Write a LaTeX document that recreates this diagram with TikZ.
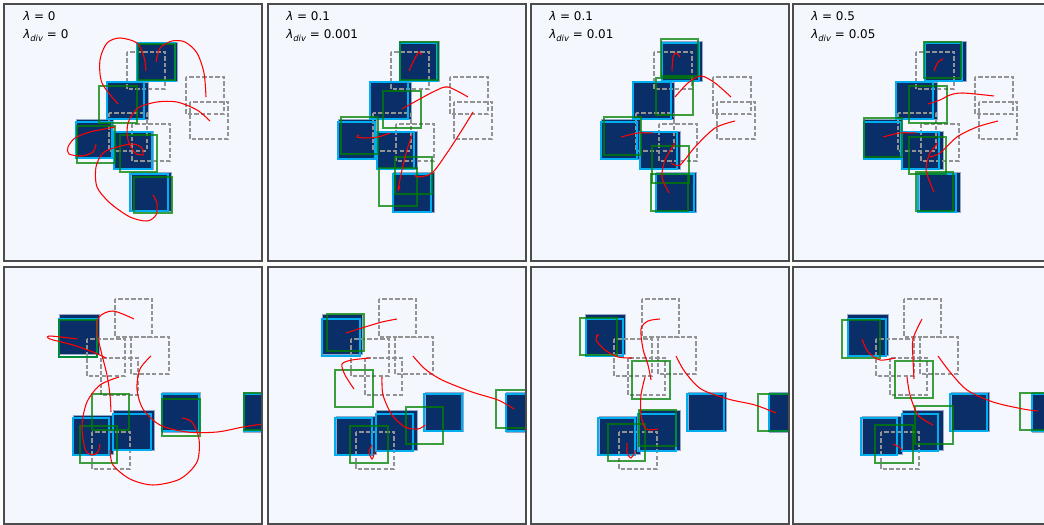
\documentclass[tikz,border=0pt]{standalone}
\usepackage{fontspec}
\setmainfont{DejaVu Sans}

\definecolor{bgblue}{HTML}{F4F8FE}
\definecolor{navyfill}{HTML}{0A2F68}
\definecolor{navyedge}{HTML}{97A9C8}
\definecolor{boxgreen}{HTML}{008000}

\tikzstyle{frame}  = [draw=black!70, line width=0.8pt]
\tikzstyle{obj}    = [fill=navyfill, draw=navyedge, line width=0.6pt]
\tikzstyle{target} = [draw=gray!85, dash pattern=on 3pt off 1.6pt, line width=0.75pt]
\tikzstyle{pred}   = [draw=cyan, line width=1.05pt]
\tikzstyle{prior}  = [draw=boxgreen, draw opacity=0.75, line width=0.9pt]
\tikzstyle{traj}   = [draw=red, line width=0.75pt]
\tikzstyle{lbl}    = [anchor=base west, inner sep=0pt, font=\fontsize{8.5}{10}\selectfont]

\newcommand{\subdiv}{\textit{λ}\raisebox{-0.45ex}{\fontsize{6}{7}\selectfont\textit{div}}}

% dashed goal boxes, top row
\newcommand{\toptargets}{%
  \draw[target] (123,48) rectangle (161,85);
  \draw[target] (182,73) rectangle (220,110);
  \draw[target] (186,98) rectangle (224,135);
  \draw[target] (105,109) rectangle (143,147);
  \draw[target] (128,120) rectangle (166,157);
}
% dashed goal boxes, bottom row
\newcommand{\bottargets}{%
  \draw[target] (111,32) rectangle (148,70);
  \draw[target] (83,72) rectangle (121,109);
  \draw[target] (127,70) rectangle (165,107);
  \draw[target] (97,91) rectangle (134,128);
  \draw[target] (88,165) rectangle (126,202);
}

\begin{document}
\begin{tikzpicture}[x=0.025cm, y=-0.025cm]
  \clip (0,0) rectangle (1044,525);
  \fill[white] (0,0) rectangle (1044,525);

  % ---- top left
  \begin{scope}[shift={(4,4)}]
    \begin{scope}
      \clip (0,0) rectangle (258,257);
      \fill[bgblue] (0,0) rectangle (258,257);
      \filldraw[obj] (133,38) rectangle (173,77);
      \filldraw[obj] (103,78) rectangle (144,115);
      \filldraw[obj] (72,115) rectangle (109,154);
      \filldraw[obj] (109,127) rectangle (149,165);
      \filldraw[obj] (127,168) rectangle (167,207);
      \toptargets
      \draw[pred] (133,39) rectangle (171,77);
      \draw[pred] (103,78) rectangle (140,115);
      \draw[pred] (72,118) rectangle (108,154);
      \draw[pred] (110,128) rectangle (148,165);
      \draw[pred] (126,170) rectangle (164,207);
      \draw[prior] (134,40) rectangle (171,76);
      \draw[prior] (95,82) rectangle (133,119);
      \draw[prior] (73,122) rectangle (111,159);
      \draw[prior] (116,131) rectangle (153,168);
      \draw[prior] (130,173) rectangle (168,209);
      \draw[traj] plot[smooth] coordinates {(114,100) (98,79) (96,56) (103,39) (116,34) (133,39) (140,53) (142,67)};
      \draw[traj] plot[smooth] coordinates {(152,58) (156,44) (168,37) (181,38) (193,49) (200,69) (202,93)};
      \draw[traj] plot[smooth] coordinates {(206,117) (193,106) (173,98) (153,98) (134,104) (124,119) (124,136) (131,149) (139,151)};
      \draw[traj] plot[smooth] coordinates {(92,140) (89,148) (78,152) (65,150) (64,143) (71,134) (86,128) (111,123)};
      \draw[traj] plot[smooth] coordinates {(149,191) (153,199) (152,211) (143,217) (126,213) (106,199) (93,183) (92,163) (99,149) (113,143) (129,140) (138,144) (139,151)};
    \end{scope}
    \draw[frame] (0,0) rectangle (258,257);
    \node[lbl] (lam1) at (19,17) {\textit{λ} = 0};
    \node[lbl] (div1) at (19,35) {\subdiv{} = 0};
  \end{scope}

  % ---- top, second
  \begin{scope}[shift={(268,4)}]
    \begin{scope}
      \clip (0,0) rectangle (258,257);
      \fill[bgblue] (0,0) rectangle (258,257);
      \filldraw[obj] (131,37) rectangle (171,77);
      \filldraw[obj] (102,78) rectangle (143,115);
      \filldraw[obj] (70,115) rectangle (108,155);
      \filldraw[obj] (109,127) rectangle (149,165);
      \filldraw[obj] (125,168) rectangle (166,208);
      \toptargets
      \draw[pred] (132,39) rectangle (169,77);
      \draw[pred] (102,78) rectangle (140,115);
      \draw[pred] (70,118) rectangle (107,155);
      \draw[pred] (109,128) rectangle (146,165);
      \draw[pred] (125,170) rectangle (163,208);
      \draw[prior] (132,38) rectangle (170,76);
      \draw[prior] (115,87) rectangle (153,124);
      \draw[prior] (73,113) rectangle (110,150);
      \draw[prior] (127,153) rectangle (164,190);
      \draw[prior] (111,164) rectangle (149,202);
      \draw[traj] plot[smooth] coordinates {(141,67) (146,56) (151,48) (153,51)};
      \draw[traj] plot[smooth] coordinates {(134,105) (150,96) (167,87) (180,83) (200,93)};
      \draw[traj] plot[smooth] coordinates {(91,131) (89,133) (97,134) (110,133) (122,129)};
      \draw[traj] plot[smooth] coordinates {(205,108) (194,126) (179,149) (164,169) (150,173) (147,171)};
      \draw[traj] plot[smooth] coordinates {(144,131) (139,146) (134,166) (130,186) (132,182)};
    \end{scope}
    \draw[frame] (0,0) rectangle (258,257);
    \node[lbl] (lam2) at (18,17) {\textit{λ} = 0.1};
    \node[lbl] (div2) at (18,35) {\subdiv{} = 0.001};
  \end{scope}

  % ---- top, third
  \begin{scope}[shift={(531,4)}]
    \begin{scope}
      \clip (0,0) rectangle (258,257);
      \fill[bgblue] (0,0) rectangle (258,257);
      \filldraw[obj] (130,37) rectangle (171,77);
      \filldraw[obj] (102,78) rectangle (143,115);
      \filldraw[obj] (70,115) rectangle (109,155);
      \filldraw[obj] (109,127) rectangle (149,165);
      \filldraw[obj] (125,168) rectangle (165,208);
      \toptargets
      \draw[pred] (131,39) rectangle (168,77);
      \draw[pred] (102,78) rectangle (140,115);
      \draw[pred] (70,118) rectangle (106,155);
      \draw[pred] (109,128) rectangle (146,165);
      \draw[pred] (125,170) rectangle (163,208);
      \draw[prior] (130,35) rectangle (167,72);
      \draw[prior] (125,74) rectangle (162,111);
      \draw[prior] (73,113) rectangle (110,151);
      \draw[prior] (121,142) rectangle (158,179);
      \draw[prior] (120,170) rectangle (157,207);
      \draw[traj] plot[smooth] coordinates {(141,67) (142,53) (145,49) (149,53)};
      \draw[traj] plot[smooth] coordinates {(144,93) (157,79) (170,72) (184,79) (200,93)};
      \draw[traj] plot[smooth] coordinates {(90,133) (107,129) (122,129)};
      \draw[traj] plot[smooth] coordinates {(204,117) (184,124) (164,143) (149,161) (140,159)};
      \draw[traj] plot[smooth] coordinates {(144,139) (134,156) (131,173) (138,189)};
    \end{scope}
    \draw[frame] (0,0) rectangle (258,257);
    \node[lbl] (lam3) at (18,17) {\textit{λ} = 0.1};
    \node[lbl] (div3) at (18,35) {\subdiv{} = 0.01};
  \end{scope}

  % ---- top right
  \begin{scope}[shift={(793,4)}]
    \begin{scope}
      \clip (0,0) rectangle (258,257);
      \fill[bgblue] (0,0) rectangle (258,257);
      \filldraw[obj] (131,37) rectangle (173,77);
      \filldraw[obj] (103,78) rectangle (144,115);
      \filldraw[obj] (71,115) rectangle (109,155);
      \filldraw[obj] (109,127) rectangle (150,165);
      \filldraw[obj] (126,168) rectangle (167,208);
      \toptargets
      \draw[pred] (132,39) rectangle (169,77);
      \draw[pred] (103,78) rectangle (140,115);
      \draw[pred] (71,118) rectangle (108,155);
      \draw[pred] (109,128) rectangle (146,165);
      \draw[pred] (125,170) rectangle (163,208);
      \draw[prior] (131,38) rectangle (168,74);
      \draw[prior] (116,82) rectangle (154,119);
      \draw[prior] (71,114) rectangle (109,153);
      \draw[prior] (116,133) rectangle (153,170);
      \draw[prior] (123,168) rectangle (160,207);
      \draw[traj] plot[smooth] coordinates {(141,67) (145,58) (150,55)};
      \draw[traj] plot[smooth] coordinates {(135,100) (147,96) (157,91) (170,89) (201,92)};
      \draw[traj] plot[smooth] coordinates {(90,133) (107,129) (123,129)};
      \draw[traj] plot[smooth] coordinates {(205,117) (184,123) (164,133) (147,149) (137,153)};
      \draw[traj] plot[smooth] coordinates {(145,139) (137,149) (133,166) (141,188)};
    \end{scope}
    \draw[frame] (0,0) rectangle (258,257);
    \node[lbl] (lam4) at (18,17) {\textit{λ} = 0.5};
    \node[lbl] (div4) at (18,35) {\subdiv{} = 0.05};
  \end{scope}

  % ---- bottom left
  \begin{scope}[shift={(4,267)}]
    \begin{scope}
      \clip (0,0) rectangle (258,257);
      \fill[bgblue] (0,0) rectangle (258,257);
      \filldraw[obj] (55,47) rectangle (95,87);
      \filldraw[obj] (69,148) rectangle (109,187);
      \filldraw[obj] (109,143) rectangle (150,183);
      \filldraw[obj] (158,125) rectangle (196,165);
      \filldraw[obj] (239,125) rectangle (279,165);
      \bottargets
      \draw[pred] (55,52) rectangle (93,90);
      \draw[pred] (69,151) rectangle (105,188);
      \draw[pred] (109,147) rectangle (147,183);
      \draw[pred] (158,127) rectangle (195,164);
      \draw[pred] (240,127) rectangle (278,164);
      \draw[prior] (55,53) rectangle (93,90);
      \draw[prior] (88,127) rectangle (125,163);
      \draw[prior] (76,159) rectangle (113,196);
      \draw[prior] (158,132) rectangle (196,169);
      \draw[prior] (240,126) rectangle (278,163);
      \draw[traj] plot[smooth] coordinates {(73,72) (46,69) (46,72) (69,78) (89,85) (102,91)};
      \draw[traj] plot[smooth] coordinates {(130,52) (109,44) (95,50) (93,65) (98,88) (103,108) (106,128) (107,145)};
      \draw[traj] plot[smooth] coordinates {(147,89) (136,102) (133,122) (139,142) (156,158) (183,165) (213,165) (239,160) (259,157)};
      \draw[traj] plot[smooth] coordinates {(115,110) (96,118) (83,135) (78,158) (81,182) (88,188) (94,185) (96,177)};
      \draw[traj] plot[smooth] coordinates {(178,151) (188,155) (195,172) (193,195) (176,212) (149,218) (126,212) (109,198) (106,183)};
    \end{scope}
    \draw[frame] (0,0) rectangle (258,257);
  \end{scope}

  % ---- bottom, second
  \begin{scope}[shift={(268,267)}]
    \begin{scope}
      \clip (0,0) rectangle (258,257);
      \fill[bgblue] (0,0) rectangle (258,257);
      \filldraw[obj] (54,47) rectangle (94,87);
      \filldraw[obj] (68,149) rectangle (108,187);
      \filldraw[obj] (108,143) rectangle (149,183);
      \filldraw[obj] (157,125) rectangle (195,164);
      \filldraw[obj] (238,125) rectangle (278,165);
      \bottargets
      \draw[pred] (54,52) rectangle (92,89);
      \draw[pred] (67,151) rectangle (104,188);
      \draw[pred] (108,147) rectangle (145,184);
      \draw[pred] (156,127) rectangle (194,164);
      \draw[pred] (238,127) rectangle (276,164);
      \draw[prior] (59,47) rectangle (96,84);
      \draw[prior] (67,103) rectangle (105,140);
      \draw[prior] (82,159) rectangle (120,196);
      \draw[prior] (138,140) rectangle (175,177);
      \draw[prior] (228,123) rectangle (266,161);
      \draw[traj] plot[smooth] coordinates {(78,66) (97,60) (114,55) (129,52)};
      \draw[traj] plot[smooth] coordinates {(86,122) (77,108) (74,97) (84,93) (102,91)};
      \draw[traj] plot[smooth] coordinates {(114,110) (115,128) (124,148) (137,160) (150,162) (157,158)};
      \draw[traj] plot[smooth] coordinates {(145,89) (157,102) (174,113) (204,125) (230,133) (246,142)};
      \draw[traj] plot[smooth] coordinates {(104,178) (101,185) (104,192) (106,187) (106,182)};
    \end{scope}
    \draw[frame] (0,0) rectangle (258,257);
  \end{scope}

  % ---- bottom, third
  \begin{scope}[shift={(531,267)}]
    \begin{scope}
      \clip (0,0) rectangle (258,257);
      \fill[bgblue] (0,0) rectangle (258,257);
      \filldraw[obj] (54,47) rectangle (94,87);
      \filldraw[obj] (68,149) rectangle (109,187);
      \filldraw[obj] (108,143) rectangle (149,183);
      \filldraw[obj] (157,125) rectangle (195,164);
      \filldraw[obj] (238,125) rectangle (278,165);
      \bottargets
      \draw[pred] (55,52) rectangle (92,89);
      \draw[pred] (67,151) rectangle (104,188);
      \draw[pred] (107,147) rectangle (145,184);
      \draw[pred] (156,127) rectangle (193,164);
      \draw[pred] (238,127) rectangle (276,164);
      \draw[prior] (49,51) rectangle (86,88);
      \draw[prior] (101,94) rectangle (139,132);
      \draw[prior] (77,157) rectangle (114,194);
      \draw[prior] (108,143) rectangle (145,179);
      \draw[prior] (227,127) rectangle (265,164);
      \draw[traj] plot[smooth] coordinates {(65,69) (67,68) (65,73) (74,83) (87,90) (101,91)};
      \draw[traj] plot[smooth] coordinates {(129,52) (117,54) (110,62) (112,82) (117,98) (120,113)};
      \draw[traj] plot[smooth] coordinates {(114,110) (110,128) (110,148) (115,162) (127,162)};
      \draw[traj] plot[smooth] coordinates {(145,89) (154,105) (170,122) (197,132) (224,138) (245,146)};
      \draw[traj] plot[smooth] coordinates {(96,176) (96,185) (100,191) (105,183)};
    \end{scope}
    \draw[frame] (0,0) rectangle (258,257);
  \end{scope}

  % ---- bottom right
  \begin{scope}[shift={(793,267)}]
    \begin{scope}
      \clip (0,0) rectangle (258,257);
      \fill[bgblue] (0,0) rectangle (258,257);
      \filldraw[obj] (54,47) rectangle (95,88);
      \filldraw[obj] (69,149) rectangle (109,187);
      \filldraw[obj] (109,143) rectangle (150,183);
      \filldraw[obj] (158,125) rectangle (196,164);
      \filldraw[obj] (239,125) rectangle (279,165);
      \bottargets
      \draw[pred] (55,52) rectangle (93,89);
      \draw[pred] (68,151) rectangle (104,188);
      \draw[pred] (109,147) rectangle (145,184);
      \draw[pred] (157,127) rectangle (194,164);
      \draw[pred] (239,127) rectangle (277,164);
      \draw[prior] (49,53) rectangle (87,91);
      \draw[prior] (102,94) rectangle (140,131);
      \draw[prior] (82,158) rectangle (120,196);
      \draw[prior] (122,139) rectangle (160,177);
      \draw[prior] (227,126) rectangle (265,163);
      \draw[traj] plot[smooth] coordinates {(69,72) (75,85) (87,93) (102,91)};
      \draw[traj] plot[smooth] coordinates {(129,52) (120,72) (120,92) (121,112)};
      \draw[traj] plot[smooth] coordinates {(114,110) (117,128) (125,148) (140,158)};
      \draw[traj] plot[smooth] coordinates {(145,89) (157,105) (174,123) (200,135) (230,142) (245,144)};
      \draw[traj] plot[smooth] coordinates {(100,177) (106,180) (109,183)};
    \end{scope}
    \draw[frame] (0,0) rectangle (258,257);
  \end{scope}
\end{tikzpicture}
\end{document}
